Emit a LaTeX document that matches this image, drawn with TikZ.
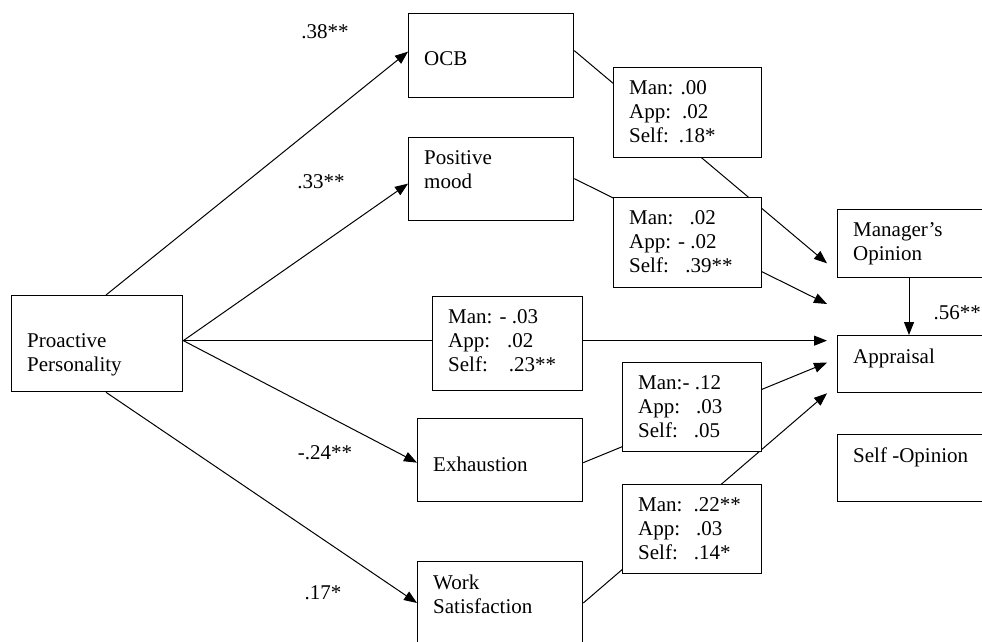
\documentclass[tikz,border=0pt]{standalone}
\usepackage{fontspec}
\setmainfont{Liberation Serif}
\usetikzlibrary{arrows.meta,calc}

\begin{document}
\begin{tikzpicture}[x=1pt, y=-1pt,
	box/.style={draw, line width=1.3pt, anchor=north west, inner sep=0pt},
	coef/.style={box, fill=white},
	txt/.style={anchor=north west, align=left, inner sep=0pt, xshift=16pt, yshift=-13.5pt, font=\fontsize{21}{24}\selectfont},
	low/.style={yshift=-25pt},
	arr/.style={line width=1pt, -{Triangle[length=13pt, width=10pt]}},
	val/.style={font=\fontsize{21}{24}\selectfont}]

\clip (0, 0) rectangle (982, 642);

% variables
\node[box, minimum width=171, minimum height=96, label={[txt, low]north west:{Proactive\\Personality}}] (pp) at (11, 295) {};
\node[box, minimum width=165, minimum height=84, label={[txt, low]north west:{OCB}}] (ocb) at (408, 13) {};
\node[box, minimum width=165, minimum height=83, label={[txt]north west:{Positive\\mood}}] (mood) at (408, 137) {};
\node[box, minimum width=165, minimum height=83, label={[txt, low]north west:{Exhaustion}}] (exh) at (417, 418) {};
\node[box, minimum width=165, minimum height=90, label={[txt]north west:{Work\\Satisfaction}}] (work) at (417, 561) {};
\node[box, minimum width=160, minimum height=68, label={[txt]north west:{Manager's\\Opinion}}] (mgr) at (837, 209) {};
\node[box, minimum width=160, minimum height=57, label={[txt]north west:{Appraisal}}] (appr) at (837, 335) {};
\node[box, minimum width=160, minimum height=67, label={[txt]north west:{Self -Opinion}}] (selfop) at (837, 434) {};

% paths
\draw[arr] ($(pp.north west)+(95, 0)$) -- ($(ocb.west)+(0, -4)$);
\draw[arr] ($(pp.east)+(0, -3)$) -- ($(mood.west)+(0, 4.5)$);
\draw[arr] ($(pp.east)+(0, -3)$) -- ($(appr.west)+(-10, -23.5)$);
\draw[arr] ($(pp.east)+(0, -3)$) -- ($(exh.west)+(0, 2.5)$);
\draw[arr] ($(pp.south west)+(95, 0)$) -- ($(work.north west)+(0, 42)$);
\draw[arr] ($(ocb.east)+(0, -5)$) -- ($(mgr.south west)+(-10, -15)$);
\draw[arr] ($(mood.east)+(0, -0.5)$) -- ($(appr.north west)+(-10, -31)$);
\draw[arr] ($(exh.east)+(0, 2.5)$) -- ($(appr.west)+(-10, -1.5)$);
\draw[arr] ($(work.north east)+(0, 42)$) -- ($(appr.south west)+(-10, 0)$);
\draw[arr] ($(mgr.south west)+(72, 0)$) -- ($(appr.north west)+(72, 0)$);

\node[val] (bocb) at (325, 32) {.38**};
\node[val] (bmood) at (321, 182) {.33**};
\node[val] (bexh) at (325, 453) {-.24**};
\node[val] (bwork) at (323, 593) {.17*};
\node[val, anchor=east, inner sep=0pt] (bmgr) at (981, 313) {.56**};

% indirect and direct effects
\node[coef, minimum width=148, minimum height=90, label={[txt]north west:{Man: .00\\App:\hspace{11pt}.02\\Self:\hspace{10pt}.18*}}] (cocb) at (613, 67) {};
\node[coef, minimum width=148, minimum height=90, label={[txt]north west:{Man:\hspace{16pt}.02\\App: - .02\\Self:\hspace{16.5pt}.39**}}] (cmood) at (613, 197) {};
\node[coef, minimum width=150, minimum height=94, label={[txt]north west:{Man: - .03\\App:\hspace{17pt}.02\\Self:\hspace{21pt}.23**}}] (cdir) at (432, 296) {};
\node[coef, minimum width=139, minimum height=89, label={[txt]north west:{Man:- .12\\App:\hspace{16pt}.03\\Self:\hspace{16pt}.05}}] (cexh) at (622, 362) {};
\node[coef, minimum width=139, minimum height=89, label={[txt]north west:{Man:\hspace{11pt}.22**\\App:\hspace{16pt}.03\\Self:\hspace{16pt}.14*}}] (cwork) at (622, 484) {};

\end{tikzpicture}
\end{document}
